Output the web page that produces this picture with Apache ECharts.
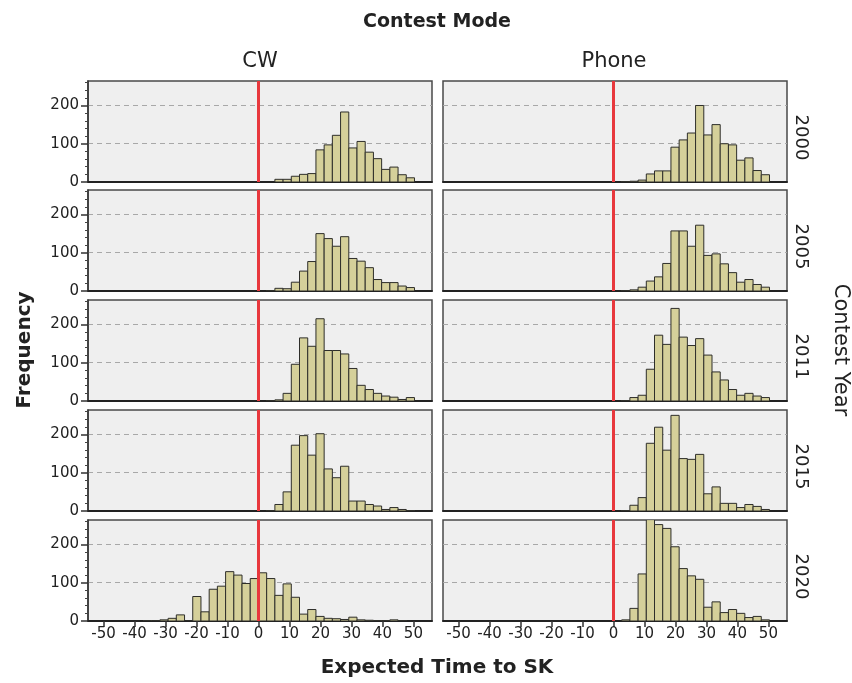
<!DOCTYPE html>
<html>
<head>
<meta charset="utf-8">
<script src="https://cdn.jsdelivr.net/npm/echarts@6/dist/echarts.min.js"></script>
<style>
html,body{margin:0;padding:0;background:#fff;}
#chart{width:852px;height:683px;}
</style>
</head>
<body>
<div id="chart"></div>
<script>
// ---- data ----
const binWidth = 2.65;
const modes = ['CW', 'Phone'];
const years = ['2000', '2005', '2011', '2015', '2020'];
const xTickValues = [-50, -40, -30, -20, -10, 0, 10, 20, 30, 40, 50];
const yLabelValues = [0, 100, 200];
const yMinorTicks = [20, 40, 60, 80, 120, 140, 160, 180, 220, 240, 260];

// first bin index of each panel (bin k covers [k*binWidth, (k+1)*binWidth])
const cw2000Start = 2;
const cw2000 = [7, 7, 15, 20, 22, 84, 97, 122, 183, 89, 106, 78, 61, 33, 39, 19, 11];
const ph2000Start = 1;
const ph2000 = [1, 2, 5, 21, 29, 29, 91, 110, 128, 200, 123, 150, 100, 97, 57, 63, 30, 19];
const cw2005Start = 1;
const cw2005 = [1, 7, 6, 23, 52, 77, 150, 137, 117, 142, 85, 78, 61, 30, 22, 22, 13, 9];
const ph2005Start = 1;
const ph2005 = [1, 3, 10, 26, 37, 72, 157, 157, 117, 172, 93, 97, 71, 48, 23, 30, 17, 10];
const cw2011Start = 1;
const cw2011 = [1, 3, 20, 96, 165, 143, 215, 132, 132, 123, 85, 41, 30, 20, 13, 10, 4, 9];
const ph2011Start = 1;
const ph2011 = [1, 9, 15, 83, 172, 148, 242, 167, 145, 163, 120, 76, 55, 30, 15, 20, 13, 9];
const cw2015Start = 1;
const cw2015 = [1, 17, 50, 172, 197, 146, 202, 110, 87, 117, 26, 26, 17, 13, 4, 9, 4, 1];
const ph2015Start = 1;
const ph2015 = [1, 15, 35, 177, 219, 159, 250, 137, 135, 148, 45, 63, 20, 20, 9, 17, 12, 4];
const cw2020Start = -14;
const cw2020 = [1, 1, 3, 7, 16, 0, 64, 24, 83, 91, 129, 120, 98, 111, 126, 111, 67, 97, 62, 18, 30, 12, 7, 6, 4, 10, 3, 2, 1, 1, 3, 1];
const ph2020Start = 1;
const ph2020 = [3, 33, 123, 265, 252, 242, 194, 137, 118, 109, 36, 50, 22, 30, 20, 9, 12, 3];

const panels = [
  [[cw2000Start, cw2000], [ph2000Start, ph2000]],
  [[cw2005Start, cw2005], [ph2005Start, ph2005]],
  [[cw2011Start, cw2011], [ph2011Start, ph2011]],
  [[cw2015Start, cw2015], [ph2015Start, ph2015]],
  [[cw2020Start, cw2020], [ph2020Start, ph2020]]
];

// ---- layout ----
const FONT = 'DejaVu Sans';
const colLeft = [88, 443];
const panelW = 344;
const rowTop = [81, 190, 300, 410, 520];
const panelH = 101;

const grid = [], xAxis = [], yAxis = [], series = [];
let gi = 0, yi = 0;
for (let r = 0; r < 5; r++) {
  for (let c = 0; c < 2; c++) {
    grid.push({
      left: colLeft[c], top: rowTop[r], width: panelW, height: panelH,
      show: true, backgroundColor: '#efefef', borderColor: '#4a4a4a', borderWidth: 1.5
    });
    const isBottom = r === 4;
    xAxis.push({
      gridIndex: gi, type: 'value', min: -55, max: 56, position: 'bottom',
      axisLine: { show: true, onZero: false, lineStyle: { color: '#222', width: 1.8 } },
      axisTick: { show: isBottom, customValues: xTickValues, length: 6, lineStyle: { color: '#333', width: 1.5 } },
      axisLabel: { show: isBottom, customValues: xTickValues, color: '#222', fontSize: 15, fontFamily: FONT, margin: 6 },
      splitLine: { show: false }
    });
    const isLeft = c === 0;
    yAxis.push({
      gridIndex: gi, type: 'value', min: 0, max: 264, interval: 100, position: 'left',
      axisLine: { show: isLeft, onZero: false, lineStyle: { color: '#333', width: 1.5 } },
      axisTick: { show: isLeft, customValues: yLabelValues, length: 7, lineStyle: { color: '#333', width: 1.5 } },
      axisLabel: { show: isLeft, customValues: yLabelValues, color: '#222', fontSize: 15, fontFamily: FONT, margin: 9 },
      splitLine: { show: true, lineStyle: { type: [5, 4], color: '#a8a8a8', width: 1 } }
    });
    const mainY = yi;
    yi++;
    if (isLeft) {
      yAxis.push({
        gridIndex: gi, type: 'value', min: 0, max: 264, position: 'left',
        axisLine: { show: false, onZero: false },
        axisTick: { show: true, customValues: yMinorTicks, length: 3, lineStyle: { color: '#444', width: 1 } },
        axisLabel: { show: false },
        splitLine: { show: false }
      });
      yi++;
    }
    const [start, counts] = panels[r][c];
    series.push({
      type: 'custom',
      xAxisIndex: gi, yAxisIndex: mainY,
      clip: true,
      data: counts.map((v, i) => [(start + i) * binWidth, (start + i + 1) * binWidth, v]),
      encode: { x: [0, 1], y: 2 },
      renderItem: function (params, api) {
        const p0 = api.coord([api.value(0), api.value(2)]);
        const p1 = api.coord([api.value(1), 0]);
        return {
          type: 'rect',
          shape: { x: p0[0], y: p0[1], width: p1[0] - p0[0], height: p1[1] - p0[1] },
          style: { fill: '#d5d09a', stroke: '#2e2e2a', lineWidth: 1 }
        };
      },
      markLine: {
        silent: true, symbol: 'none', animation: false,
        label: { show: false },
        lineStyle: { color: '#e8383d', width: 3, type: 'solid' },
        data: [{ xAxis: 0 }]
      }
    });
    gi++;
  }
}

const graphic = [
  { type: 'text', x: 437, y: 22, style: { text: 'Contest Mode', font: 'bold 19px ' + FONT, fill: '#222', align: 'center', verticalAlign: 'middle' } },
  { type: 'text', x: 260, y: 62, style: { text: modes[0], font: '21px ' + FONT, fill: '#222', align: 'center', verticalAlign: 'middle' } },
  { type: 'text', x: 614, y: 62, style: { text: modes[1], font: '21px ' + FONT, fill: '#222', align: 'center', verticalAlign: 'middle' } },
  { type: 'text', x: 437, y: 668, style: { text: 'Expected Time to SK', font: 'bold 20px ' + FONT, fill: '#222', align: 'center', verticalAlign: 'middle' } },
  { type: 'text', x: 25, y: 350, rotation: Math.PI / 2, style: { text: 'Frequency', font: 'bold 20px ' + FONT, fill: '#222', align: 'center', verticalAlign: 'middle' } },
  { type: 'text', x: 840, y: 350, rotation: -Math.PI / 2, style: { text: 'Contest Year', font: '21px ' + FONT, fill: '#222', align: 'center', verticalAlign: 'middle' } }
];
for (let r = 0; r < 5; r++) {
  graphic.push({ type: 'text', x: 801, y: rowTop[r] + panelH / 2 + 6, rotation: -Math.PI / 2,
    style: { text: years[r], font: '18px ' + FONT, fill: '#222', align: 'center', verticalAlign: 'middle' } });
}

const chart = echarts.init(document.getElementById('chart'), null, { renderer: 'canvas' });
chart.setOption({
  animation: false,
  backgroundColor: '#ffffff',
  grid, xAxis, yAxis, series, graphic
});
</script>
</body>
</html>
